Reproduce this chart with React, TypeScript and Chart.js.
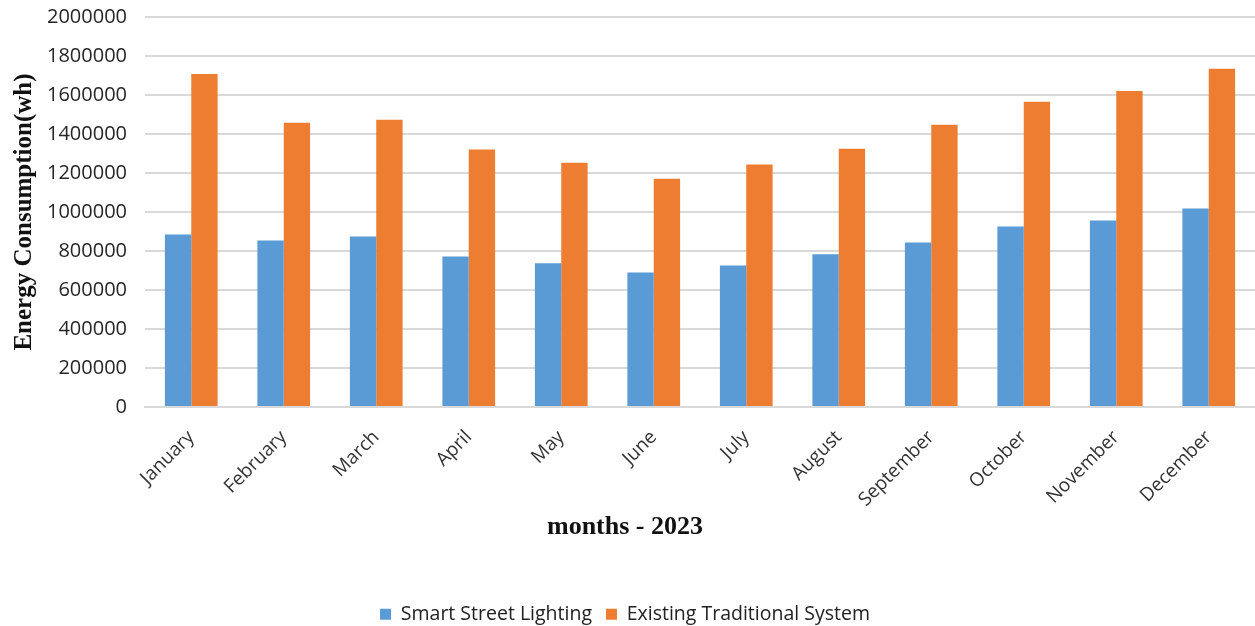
import React, { useEffect, useRef } from "react";
import { Chart, registerables } from "chart.js";

Chart.register(...registerables);

const months = [
  "January", "February", "March", "April", "May", "June",
  "July", "August", "September", "October", "November", "December",
];
const smartStreetLighting = [885000, 854000, 875000, 772000, 737000, 690000, 726000, 783000, 844000, 926000, 957000, 1018000];
const existingTraditional = [1708000, 1458000, 1473000, 1320000, 1253000, 1171000, 1243000, 1325000, 1448000, 1565000, 1621000, 1734000];
const yTicks = [0, 200000, 400000, 600000, 800000, 1000000, 1200000, 1400000, 1600000, 1800000, 2000000];

export default function App() {
  const ref = useRef<HTMLCanvasElement | null>(null);
  useEffect(() => {
    if (!ref.current) return;
    const chart = new Chart(ref.current, {
      type: "bar",
      data: {
        labels: months,
        datasets: [
          { label: "Smart Street Lighting", data: smartStreetLighting, backgroundColor: "#5B9BD5" },
          { label: "Existing Traditional System", data: existingTraditional, backgroundColor: "#ED7D31" },
        ],
      },
      options: {
        animation: false,
        responsive: false,
        layout: { padding: { top: 0, right: -5, left: -10, bottom: -8 } },
        datasets: { bar: { categoryPercentage: 0.57, barPercentage: 1 } },
        plugins: {
          tooltip: { enabled: false },
          title: {
            display: true,
            position: "bottom",
            weight: 500,
            text: "months - 2023",
            font: { family: "Liberation Serif", size: 26, weight: "bold" },
            color: "#111",
            padding: { top: -19, bottom: 48 },
          },
          legend: {
            position: "bottom",
            labels: {
              font: { family: "Open Sans", size: 19.5 },
              color: "#222",
              boxWidth: 11,
              boxHeight: 11,
              padding: 14,
            },
          },
        },
        scales: {
          x: {
            grid: { display: false, drawTicks: false },
            border: { color: "#d9d9d9", width: 2 },
            ticks: {
              autoSkip: false,
              maxRotation: 45,
              minRotation: 45,
              padding: 19,
              font: { family: "Open Sans", size: 19 },
              color: "#333",
            },
          },
          y: {
            min: 0,
            max: 2000000,
            afterBuildTicks: (axis: any) => {
              axis.ticks = yTicks.map((v) => ({ value: v }));
            },
            afterFit: (axis: any) => {
              axis.width = 155;
            },
            grid: { color: "#d9d9d9", lineWidth: 2, drawTicks: true, tickLength: 13, tickColor: "rgba(0,0,0,0)" },
            border: { display: false },
            ticks: {
              font: { family: "Open Sans", size: 20 },
              color: "#262626",
              padding: 5,
              callback: (v: any) => String(v),
            },
            title: {
              display: true,
              text: "Energy Consumption(wh)",
              font: { family: "Liberation Serif", size: 25, weight: "bold" },
              color: "#111",
              padding: { top: 20, bottom: 7 },
            },
          },
        },
      },
    });
    return () => chart.destroy();
  }, []);
  return (
    <div style={{ position: "absolute", left: 0, top: 0, width: 1255, height: 626, background: "#fff" }}>
      <canvas ref={ref} width={1255} height={626} />
    </div>
  );
}
